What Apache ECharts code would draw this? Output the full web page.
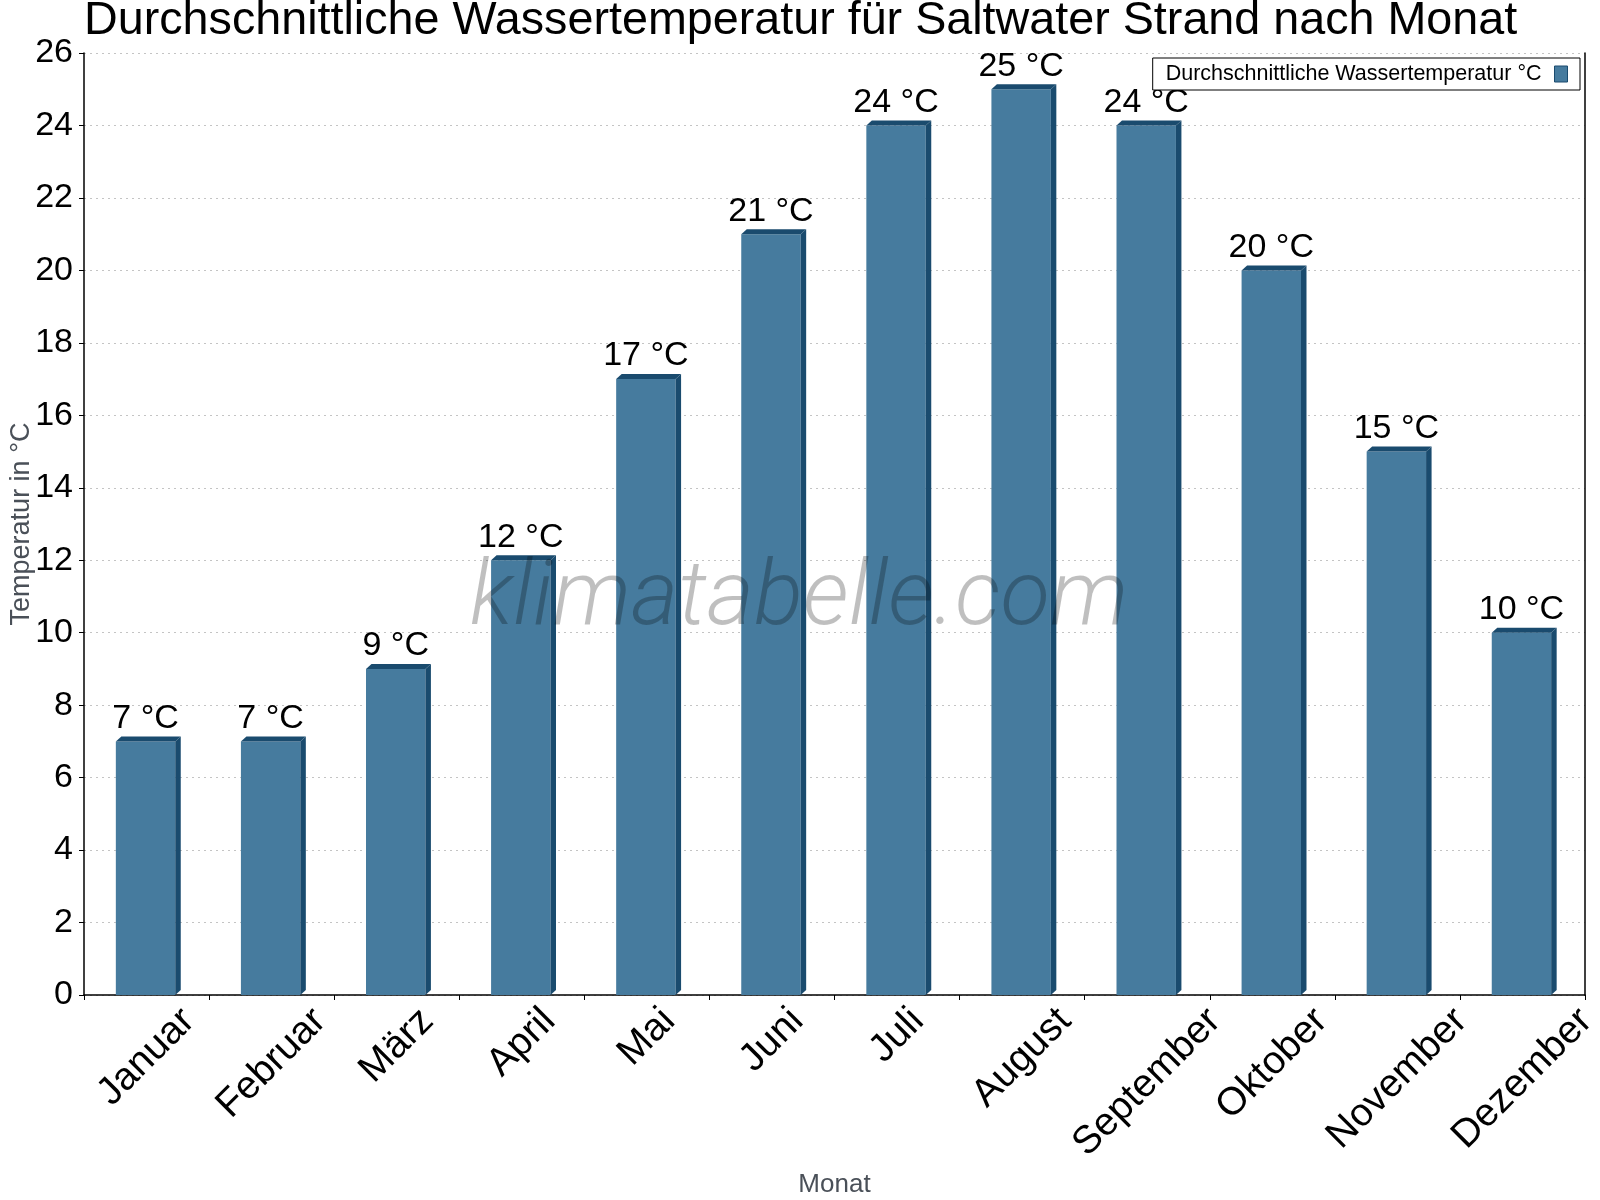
<!DOCTYPE html>
<html>
<head>
<meta charset="utf-8">
<script src="https://cdn.jsdelivr.net/npm/echarts@6/dist/echarts.min.js"></script>
<style>
  html, body { margin: 0; padding: 0; background: #ffffff; }
  #chart { width: 1600px; height: 1200px; }
</style>
</head>
<body>
<div id="chart"></div>
<script>
// ---- data ----
const titleText = 'Durchschnittliche Wassertemperatur für Saltwater Strand nach Monat';
const seriesName = 'Durchschnittliche Wassertemperatur °C';
const months = ['Januar', 'Februar', 'März', 'April', 'Mai', 'Juni', 'Juli', 'August', 'September', 'Oktober', 'November', 'Dezember'];
const waterTemp = [7, 7, 9, 12, 17, 21, 24, 25, 24, 20, 15, 10];
const yTicks = [0, 2, 4, 6, 8, 10, 12, 14, 16, 18, 20, 22, 24, 26];
const unit = ' °C';
const yAxisTitle = 'Temperatur in °C';
const xAxisTitle = 'Monat';
const watermark = 'klimatabelle.com';

// ---- style ----
const FRONT = '#467b9e';
const DARK = '#1a4b6e';
const FONT = '"Liberation Sans", Arial, Helvetica, sans-serif';
const XLABEL_SIZE = 39;

// Rotated month labels are centred horizontally under their category and hang
// from a common top line: shift each label (in its own rotated frame) so that its
// centre sits straight below the tick anchor by D = 20 + 0.354 * textWidth.
const mctx = document.createElement('canvas').getContext('2d');
mctx.font = XLABEL_SIZE + 'px ' + FONT;
const xAxisData = months.map(function (m) {
  const w = mctx.measureText(m).width;
  const D = 20 + 0.354 * w;
  const S = 1.4142 * D;
  return {
    value: m,
    textStyle: {
      align: 'center',
      verticalAlign: 'top',
      lineHeight: S,
      fontFamily: FONT,
      fontSize: XLABEL_SIZE,
      color: '#000',
      padding: [0, S, 0, 0]
    }
  };
});

const chart = echarts.init(document.getElementById('chart'), null, { renderer: 'canvas' });

const option = {
  backgroundColor: '#ffffff',
  animation: false,
  title: {
    text: titleText,
    left: 84,
    top: -2,
    padding: 0,
    textStyle: { fontFamily: FONT, fontSize: 46.7, fontWeight: 'normal', color: '#000' }
  },
  legend: {
    right: 20,
    top: 58,
    orient: 'horizontal',
    align: 'right',
    padding: [5, 12, 5, 13],
    backgroundColor: '#ffffff',
    borderColor: '#000000',
    borderWidth: 1,
    borderRadius: 0,
    itemWidth: 13,
    itemHeight: 16,
    textStyle: { fontFamily: FONT, fontSize: 21.5, color: '#000', padding: [0, 8, 0, 0] },
    data: [{ name: seriesName, icon: 'rect', itemStyle: { color: FRONT, borderColor: DARK, borderWidth: 1 } }]
  },
  grid: {
    left: 84,
    right: 15,
    top: 53,
    bottom: 205,
    containLabel: false,
    outerBoundsMode: 'none'
  },
  xAxis: {
    type: 'category',
    data: xAxisData,
    name: xAxisTitle,
    nameLocation: 'middle',
    nameGap: 177,
    nameMoveOverlap: false,
    nameTextStyle: { fontFamily: FONT, fontSize: 26, color: '#4a5058' },
    axisLine: { show: true, lineStyle: { color: '#000', width: 1.5 } },
    axisTick: { show: true, alignWithLabel: false, length: 5, lineStyle: { color: '#000', width: 1 } },
    axisLabel: {
      interval: 0,
      rotate: 45,
      margin: 0,
      align: 'center',
      verticalAlign: 'top',
      fontFamily: FONT,
      fontSize: XLABEL_SIZE,
      color: '#000'
    },
    splitLine: { show: false }
  },
  yAxis: [{
    type: 'value',
    min: yTicks[0],
    max: yTicks[yTicks.length - 1],
    interval: yTicks[1] - yTicks[0],
    name: yAxisTitle,
    nameLocation: 'middle',
    nameGap: 49,
    nameMoveOverlap: false,
    nameTextStyle: { fontFamily: FONT, fontSize: 27, color: '#4a5058' },
    axisLine: { show: true, lineStyle: { color: '#000', width: 1.5 } },
    axisTick: { show: true, length: 5, lineStyle: { color: '#000', width: 1 } },
    axisLabel: { margin: 11, fontFamily: FONT, fontSize: 34, color: '#000' },
    splitLine: { show: true, lineStyle: { color: '#c4c4c4', width: 1, type: [2, 4] } }
  }, {
    type: 'value',
    position: 'right',
    min: yTicks[0],
    max: yTicks[yTicks.length - 1],
    interval: yTicks[1] - yTicks[0],
    axisLine: { show: true, lineStyle: { color: '#000', width: 1.5 } },
    axisTick: { show: false },
    axisLabel: { show: false },
    splitLine: { show: false }
  }],
  graphic: [{
    type: 'text',
    x: 799,
    y: 601,
    z: 100,
    silent: true,
    style: {
      text: watermark,
      font: 'italic 300 91px Roboto, "Liberation Sans", sans-serif',
      fill: 'rgba(0,0,0,0.25)',
      align: 'center',
      verticalAlign: 'middle'
    }
  }],
  series: [{
    name: seriesName,
    type: 'custom',
    itemStyle: { color: FRONT },
    encode: { x: 0, y: 1 },
    data: waterTemp.map(function (v, i) { return [i, v]; }),
    renderItem: function (params, api) {
      const idx = api.value(0);
      const val = api.value(1);
      const top = api.coord([idx, val]);
      const base = api.coord([idx, 0]);
      const bw = api.size([1, 0])[0] * 0.475;
      const dx = 5.5, dy = 5;
      const x0 = top[0] - bw / 2 - 1;
      const x1 = x0 + bw;
      return {
        type: 'group',
        children: [
          { type: 'rect', shape: { x: x0, y: top[1], width: bw, height: base[1] - top[1] }, style: { fill: FRONT } },
          { type: 'polygon', shape: { points: [[x0, top[1]], [x0 + dx, top[1] - dy], [x1 + dx, top[1] - dy], [x1, top[1]]] }, style: { fill: DARK } },
          { type: 'polygon', shape: { points: [[x1, top[1]], [x1 + dx, top[1] - dy], [x1 + dx, base[1] - dy], [x1, base[1]]] }, style: { fill: DARK } },
          { type: 'text', x: (x0 + x1) / 2, y: top[1] - dy - 18, style: { text: val + unit, font: '34px ' + FONT, fill: '#000', align: 'center', verticalAlign: 'middle' } }
        ]
      };
    }
  }]
};

chart.setOption(option);
</script>
</body>
</html>
